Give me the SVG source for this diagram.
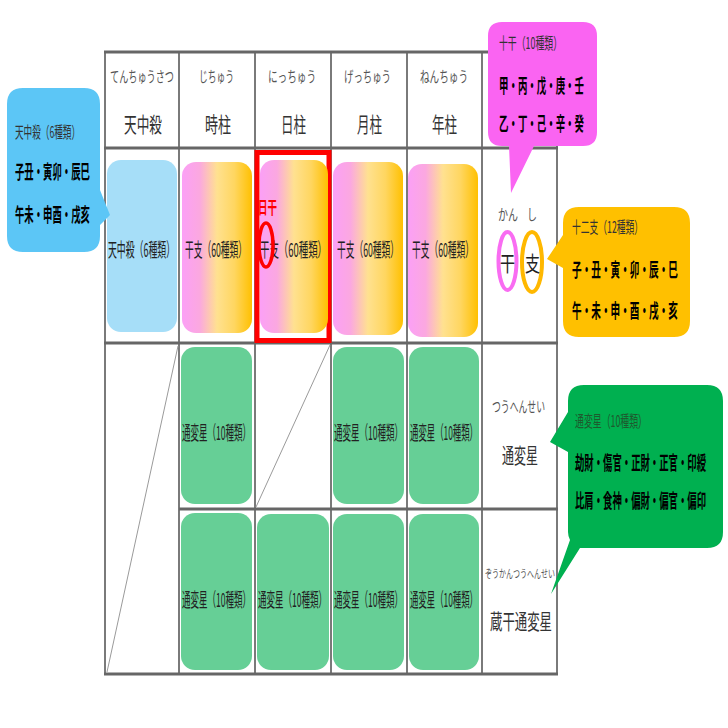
<svg xmlns="http://www.w3.org/2000/svg" width="728" height="728" viewBox="0 0 728 728">
<defs>
<linearGradient id="kanshi" x1="0" y1="0" x2="1" y2="0">
<stop offset="0" stop-color="#FBA0F6"/>
<stop offset="0.25" stop-color="#FBA8E0"/>
<stop offset="0.5" stop-color="#FFE190"/>
<stop offset="0.75" stop-color="#FFD660"/>
<stop offset="1" stop-color="#FFC000"/>
</linearGradient>
<style>
text{font-family:"Noto Sans CJK JP","Noto Sans",sans-serif;}
.kana{font-size:15px;fill:#555;}
.head{font-size:21px;fill:#333;}
.cell{font-size:19px;fill:#222;}
.ttl{font-size:16px;fill:#333;}
.bold{font-size:19px;font-weight:bold;fill:#000;}
.hl{stroke:#666;stroke-width:3;fill:none;}
.vl{stroke:#7a7a7a;stroke-width:2;fill:none;}
.diag{stroke:#9a9a9a;stroke-width:1;fill:none;}
.blue{fill:#A6DEF8;}
.grad{fill:url(#kanshi);}
.green{fill:#66CF96;}
</style>
</defs>
<rect width="728" height="728" fill="#fff"/>

<g id="grid">
<line class="vl" x1="105" y1="51" x2="105" y2="675"/>
<line class="vl" x1="179" y1="51" x2="179" y2="675"/>
<line class="vl" x1="255" y1="51" x2="255" y2="675"/>
<line class="vl" x1="331" y1="51" x2="331" y2="675"/>
<line class="vl" x1="407" y1="51" x2="407" y2="675"/>
<line class="vl" x1="482" y1="51" x2="482" y2="675"/>
<line class="vl" x1="557" y1="51" x2="557" y2="675"/>
<line class="hl" x1="104" y1="52" x2="558" y2="52"/>
<line class="hl" x1="104" y1="148" x2="558" y2="148"/>
<line class="hl" x1="104" y1="343" x2="558" y2="343"/>
<line class="hl" x1="179" y1="509" x2="558" y2="509"/>
<line class="hl" x1="104" y1="674" x2="558" y2="674"/>
<line class="diag" x1="107" y1="672" x2="178" y2="346"/>
<line class="diag" x1="256" y1="507" x2="330" y2="345"/>
</g>

<g id="header">
<text class="kana" x="110" y="82" textLength="64" lengthAdjust="spacingAndGlyphs">てんちゅうさつ</text>
<text class="kana" x="199" y="82" textLength="35" lengthAdjust="spacingAndGlyphs">じちゅう</text>
<text class="kana" x="268" y="82" textLength="48" lengthAdjust="spacingAndGlyphs">にっちゅう</text>
<text class="kana" x="344" y="82" textLength="47" lengthAdjust="spacingAndGlyphs">げっちゅう</text>
<text class="kana" x="420" y="82" textLength="48" lengthAdjust="spacingAndGlyphs">ねんちゅう</text>
<text class="head" x="124" y="132" textLength="38" lengthAdjust="spacingAndGlyphs">天中殺</text>
<text class="head" x="205" y="132" textLength="26" lengthAdjust="spacingAndGlyphs">時柱</text>
<text class="head" x="281" y="132" textLength="25" lengthAdjust="spacingAndGlyphs">日柱</text>
<text class="head" x="357" y="132" textLength="25" lengthAdjust="spacingAndGlyphs">月柱</text>
<text class="head" x="432" y="132" textLength="25" lengthAdjust="spacingAndGlyphs">年柱</text>
</g>

<g id="tenchusatsu-cell">
<rect class="blue" x="107" y="160" width="70" height="172" rx="14"/>
<text class="cell" x="108" y="257" textLength="67" lengthAdjust="spacingAndGlyphs">天中殺（6種類）</text>
</g>

<g id="jichu-kanshi">
<rect class="grad" x="182" y="162" width="70" height="171" rx="14"/>
<text class="cell" x="185" y="257" textLength="62" lengthAdjust="spacingAndGlyphs">干支（60種類）</text>
</g>

<g id="nitchu-kanshi">
<rect x="257" y="152.5" width="72" height="188" fill="none" stroke="#FF0000" stroke-width="5"/>
<rect class="grad" x="260" y="160" width="68" height="173" rx="14"/>
<text class="cell" x="260" y="257" textLength="67" lengthAdjust="spacingAndGlyphs">干支（60種類）</text>
<text x="258" y="214" font-size="17" font-weight="bold" fill="#FF0000" textLength="19" lengthAdjust="spacingAndGlyphs">日干</text>
<ellipse cx="266" cy="245" rx="7" ry="22" fill="none" stroke="#FF0000" stroke-width="3.5"/>
</g>

<g id="gatchu-kanshi">
<rect class="grad" x="333" y="162" width="70" height="173" rx="14"/>
<text class="cell" x="337" y="257" textLength="62" lengthAdjust="spacingAndGlyphs">干支（60種類）</text>
</g>

<g id="nenchu-kanshi">
<rect class="grad" x="408" y="164" width="70" height="173" rx="14"/>
<text class="cell" x="412" y="257" textLength="62" lengthAdjust="spacingAndGlyphs">干支（60種類）</text>
</g>

<g id="kanshi-label">
<text class="kana" x="498" y="220" textLength="20" lengthAdjust="spacingAndGlyphs">かん</text>
<text class="kana" x="527" y="220" textLength="10" lengthAdjust="spacingAndGlyphs">し</text>
<ellipse cx="507.5" cy="261" rx="9" ry="29" fill="none" stroke="#F96CF2" stroke-width="4"/>
<ellipse cx="532" cy="262" rx="10" ry="30" fill="none" stroke="#FFB800" stroke-width="4"/>
<text x="500" y="271" font-size="21" fill="#222" textLength="15" lengthAdjust="spacingAndGlyphs">干</text>
<text x="525" y="271" font-size="21" fill="#222" textLength="15" lengthAdjust="spacingAndGlyphs">支</text>
</g>

<g id="tsuhensei-row">
<rect class="green" x="181" y="347" width="71" height="157" rx="14"/>
<text class="cell" x="182" y="440" textLength="69" lengthAdjust="spacingAndGlyphs">通変星（10種類）</text>
<rect class="green" x="333" y="347" width="71" height="157" rx="14"/>
<text class="cell" x="334" y="440" textLength="69" lengthAdjust="spacingAndGlyphs">通変星（10種類）</text>
<rect class="green" x="409" y="347" width="70" height="157" rx="14"/>
<text class="cell" x="410" y="440" textLength="68" lengthAdjust="spacingAndGlyphs">通変星（10種類）</text>
<text class="kana" x="492" y="412" textLength="53" lengthAdjust="spacingAndGlyphs">つうへんせい</text>
<text x="502" y="463" font-size="21" fill="#333" textLength="36" lengthAdjust="spacingAndGlyphs">通変星</text>
</g>

<g id="zokan-row">
<rect class="green" x="181" y="513" width="71" height="157" rx="14"/>
<text class="cell" x="182" y="607" textLength="69" lengthAdjust="spacingAndGlyphs">通変星（10種類）</text>
<rect class="green" x="257" y="514" width="72" height="156" rx="14"/>
<text class="cell" x="258" y="607" textLength="69" lengthAdjust="spacingAndGlyphs">通変星（10種類）</text>
<rect class="green" x="333" y="514" width="71" height="156" rx="14"/>
<text class="cell" x="334" y="607" textLength="69" lengthAdjust="spacingAndGlyphs">通変星（10種類）</text>
<rect class="green" x="409" y="514" width="70" height="156" rx="14"/>
<text class="cell" x="410" y="607" textLength="68" lengthAdjust="spacingAndGlyphs">通変星（10種類）</text>
<text x="485" y="578" font-size="11" fill="#555" textLength="70" lengthAdjust="spacingAndGlyphs">ぞうかんつうへんせい</text>
<text x="490" y="629" font-size="21" fill="#333" textLength="62" lengthAdjust="spacingAndGlyphs">蔵干通変星</text>
</g>

<g id="callout-tenchusatsu">
<path d="M23 88 H84 Q100 88 100 104 V190 L110 215 L100 225 V236 Q100 252 84 252 H23 Q7 252 7 236 V104 Q7 88 23 88 Z" fill="#5CC6F6"/>
<text class="ttl" x="15" y="138" textLength="65" lengthAdjust="spacingAndGlyphs">天中殺（6種類）</text>
<text class="bold" x="15" y="179" textLength="75" lengthAdjust="spacingAndGlyphs">子丑・寅卯・辰巳</text>
<text class="bold" x="15" y="222" textLength="75" lengthAdjust="spacingAndGlyphs">午未・申酉・戌亥</text>
</g>

<g id="callout-jikkan">
<path d="M502 22 H583 Q597 22 597 36 V132 Q597 146 583 146 H534 L511 193 L509 146 H502 Q488 146 488 132 V36 Q488 22 502 22 Z" fill="#FA64F2"/>
<text class="ttl" x="499" y="49" textLength="63" lengthAdjust="spacingAndGlyphs">十干（10種類）</text>
<text class="bold" x="499" y="93" textLength="85" lengthAdjust="spacingAndGlyphs">甲・丙・戊・庚・壬</text>
<text class="bold" x="499" y="131" textLength="85" lengthAdjust="spacingAndGlyphs">乙・丁・己・辛・癸</text>
</g>

<g id="callout-junishi">
<path d="M579 207 H674 Q690 207 690 223 V321 Q690 337 674 337 H579 Q563 337 563 321 V268 L547 259 L563 235 V223 Q563 207 579 207 Z" fill="#FFC000"/>
<text class="ttl" x="572" y="233" textLength="71" lengthAdjust="spacingAndGlyphs">十二支（12種類）</text>
<text class="bold" x="572" y="277" textLength="106" lengthAdjust="spacingAndGlyphs">子・丑・寅・卯・辰・巳</text>
<text class="bold" x="572" y="318" textLength="106" lengthAdjust="spacingAndGlyphs">午・未・申・酉・戌・亥</text>
</g>

<g id="callout-tsuhensei">
<path d="M584 385 H707 Q723 385 723 401 V532 Q723 548 707 548 H580 L551 594 L570 540 Q568 536 568 532 V452 L550 442 L568 412 V401 Q568 385 584 385 Z" fill="#00B050"/>
<text x="575" y="427" font-size="16" fill="#1E5A2E" textLength="72" lengthAdjust="spacingAndGlyphs">通変星（10種類）</text>
<text class="bold" x="575" y="470" textLength="131" lengthAdjust="spacingAndGlyphs">劫財・傷官・正財・正官・印綬</text>
<text class="bold" x="575" y="508" textLength="131" lengthAdjust="spacingAndGlyphs">比肩・食神・偏財・偏官・偏印</text>
</g>
</svg>
